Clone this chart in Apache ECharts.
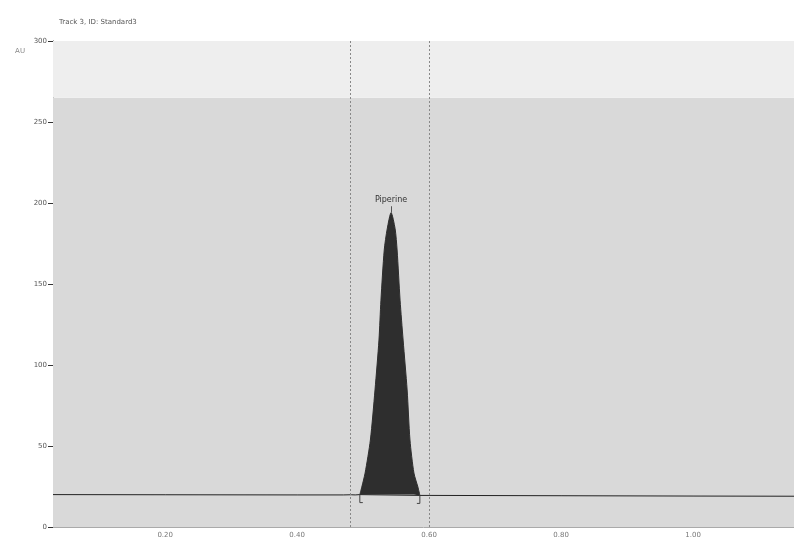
<!DOCTYPE html>
<html><head><meta charset="utf-8">
<script src="https://cdn.jsdelivr.net/npm/echarts@6/dist/echarts.min.js"></script>
<style>html,body{margin:0;padding:0;background:#fff}#c{width:794px;height:542px}</style>
</head><body><div id="c"></div>
<script>
// Time axis (min) and absorbance (AU)
const xTicks = [0.20, 0.40, 0.60, 0.80, 1.00];
const yTicks = [0, 50, 100, 150, 200, 250, 300];
// Baseline trace (time, AU)
const traceTime = [0.03, 0.20, 0.40, 0.47, 0.482, 0.485, 0.488, 0.495, 0.586, 0.60, 0.80, 1.00, 1.153];
const traceAU   = [20.0, 19.9, 19.8, 19.8, 19.9, 21.0, 19.8, 20.0, 19.5, 19.5, 19.3, 19.1, 19.0];
// Peak profile (time, AU)
const peakTime = [0.495, 0.498, 0.503, 0.511, 0.518, 0.524, 0.527, 0.532, 0.5365, 0.5424, 0.5485, 0.5515, 0.556, 0.5606, 0.5667, 0.571, 0.577, 0.583, 0.586];
const peakAU   = [20.0, 24.7, 33.3, 53.7, 84.6, 115.4, 140, 171, 184, 194, 184, 171, 140, 115.4, 84.6, 53.7, 33.3, 24.7, 19.5];
const peakName = 'Piperine';
const apexIndex = 9;
// Integration window markers and baseline brackets
const windowLines = [0.476, 0.597];
const bracketTime = [0.495, 0.586];
const bracketAU = [20.0, 19.5];
const shadeTop = 265;

const trace = traceTime.map((t, i) => [t, traceAU[i]]);
const peak = peakTime.map((t, i) => [t, peakAU[i]]);

const chart = echarts.init(document.getElementById('c'));
chart.setOption({
  animation: false,
  backgroundColor: '#ffffff',
  title: {text: 'Track 3, ID: Standard3', left: 54, top: 14, textStyle: {fontSize: 7, fontWeight: 'normal', color: '#555', fontFamily: 'DejaVu Sans'}},
  grid: {left: 53, right: 0, top: 41, bottom: 15},
  xAxis: {
    type: 'value', min: 0.03, max: 1.153,
    axisLine: {show: true, lineStyle: {color: '#aaa', width: 1}},
    axisTick: {show: false},
    splitLine: {show: false},
    axisLabel: {customValues: xTicks, formatter: v => v.toFixed(2), color: '#777', fontSize: 7, margin: 5, fontFamily: 'DejaVu Sans'}
  },
  yAxis: {
    type: 'value', min: 0, max: 300, interval: 50,
    name: 'AU', nameLocation: 'end', nameGap: 0,
    nameTextStyle: {color: '#888', fontSize: 7, align: 'right', padding: [0, 28, -14, 0], fontFamily: 'DejaVu Sans'},
    axisLine: {show: true, lineStyle: {color: '#333', width: 1}},
    axisTick: {show: true, length: 5, lineStyle: {color: '#333'}},
    splitLine: {show: false},
    axisLabel: {color: '#555', fontSize: 7, margin: 6, fontFamily: 'DejaVu Sans'}
  },
  series: [
    {
      type: 'line', data: trace, symbol: 'none', z: 3,
      lineStyle: {color: '#222', width: 1},
      markArea: {silent: true, data: [
        [{yAxis: 0, itemStyle: {color: '#d9d9d9'}}, {yAxis: shadeTop}],
        [{yAxis: shadeTop, itemStyle: {color: '#eeeeee'}}, {yAxis: 300}]
      ]},
      markLine: {silent: true, symbol: 'none', label: {show: false},
        lineStyle: {color: '#888', type: [2, 2], width: 1},
        data: windowLines.map(x => ({xAxis: x}))}
    },
    {
      type: 'line', data: peak, symbol: 'none', z: 4, smooth: 0.25,
      lineStyle: {color: '#2e2e2e', width: 1},
      areaStyle: {color: '#2e2e2e', opacity: 1, origin: 20},
      markLine: {silent: true, symbol: 'none', label: {show: false},
        lineStyle: {color: '#555', type: 'solid', width: 1},
        data: [[{coord: [peakTime[apexIndex], peakAU[apexIndex]]}, {coord: [peakTime[apexIndex], peakAU[apexIndex] + 4]}]]},
      markPoint: {silent: true, symbol: 'circle', symbolSize: 1,
        itemStyle: {color: 'transparent'},
        label: {show: true, position: 'top', distance: 8, formatter: peakName, color: '#333', fontSize: 8, fontFamily: 'DejaVu Sans'},
        data: [{coord: [peakTime[apexIndex], peakAU[apexIndex]]}]}
    },
    {
      type: 'custom', z: 5,
      data: bracketTime.map((t, i) => [t, bracketAU[i], i]),
      renderItem: function (params, api) {
        const p = api.coord([api.value(0), api.value(1)]);
        const dir = api.value(2) === 0 ? 1 : -1;
        const h = 8, w = 3;
        return {type: 'polyline', shape: {points: [[p[0] + dir * w, p[1] + h], [p[0], p[1] + h], [p[0], p[1]]]},
          style: {stroke: '#444', lineWidth: 1, fill: null}};
      }
    }
  ]
});
</script></body></html>
